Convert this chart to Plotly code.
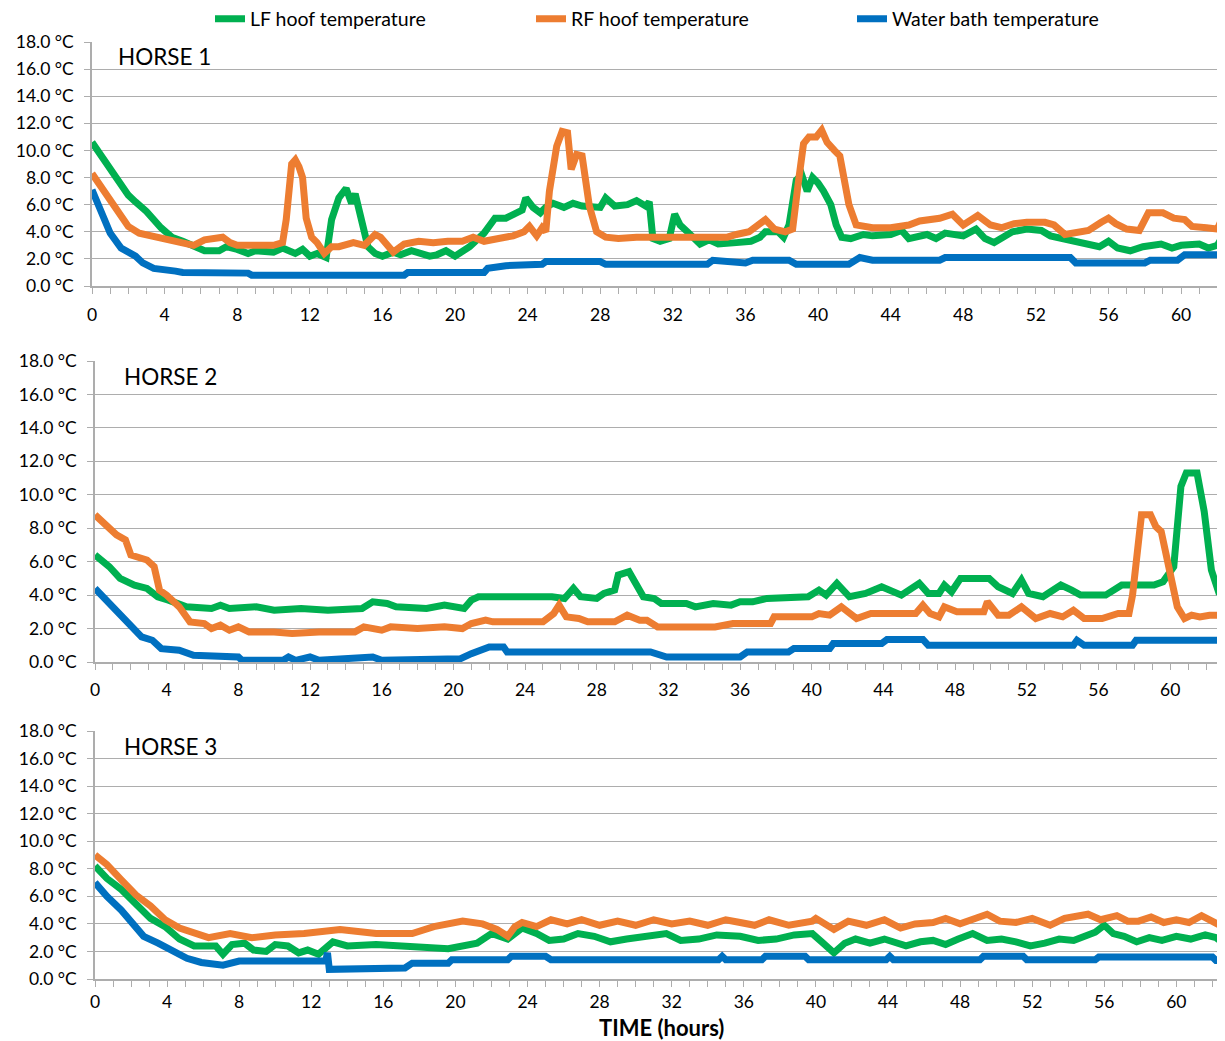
import plotly.graph_objects as go

# ---------------- DATA (hours, °C) ----------------
series_names = ["LF hoof temperature", "RF hoof temperature", "Water bath temperature"]
series_colors = ["#00B050", "#ED7D31", "#0070C0"]
panel_titles = ["HORSE 1", "HORSE 2", "HORSE 3"]
y_ticks = [0, 2, 4, 6, 8, 10, 12, 14, 16, 18]
y_tick_text = ["0.0 °C", "2.0 °C", "4.0 °C", "6.0 °C", "8.0 °C", "10.0 °C", "12.0 °C", "14.0 °C", "16.0 °C", "18.0 °C"]
x_ticks = [0, 4, 8, 12, 16, 20, 24, 28, 32, 36, 40, 44, 48, 52, 56, 60]

h1_lf = [(0,10.6),(0.4,9.8),(0.8,9.0),(1.2,8.2),(1.5,7.6),(2.0,6.7),(2.4,6.2),(2.6,6.0),(3.0,5.5),(3.8,4.3),
         (4.4,3.6),(5.0,3.3),(5.6,2.9),(6.2,2.6),(7.0,2.6),(7.4,2.9),(8.0,2.7),(8.6,2.4),(9.0,2.6),(10.0,2.5),(10.5,2.8),(11.2,2.4),
         (11.6,2.7),(12.0,2.2),(12.4,2.4),(12.9,2.1),(13.2,4.9),(13.6,6.5),(14.0,7.2),(14.3,6.1),(14.5,6.8),(14.8,5.0),
         (15.2,2.9),(15.6,2.4),(16.0,2.2),(16.6,2.5),(17.0,2.3),(17.6,2.6),(18.0,2.4),(18.6,2.2),(19.0,2.3),(19.5,2.6),(20.0,2.2),(20.8,2.9),(21.6,3.9),(22.2,5.0),
         (22.8,5.0),(23.3,5.3),(23.7,5.6),(23.9,6.5),(24.3,5.8),(24.7,5.4),(25.0,5.8),(25.4,6.1),(26.0,5.8),(26.5,6.1),(27.0,5.9),
         (28.0,5.8),(28.3,6.5),(28.8,5.9),(29.5,6.0),(30.0,6.3),(30.5,5.9),(30.7,6.2),(30.9,3.5),(31.3,3.3),(31.8,3.5),
         (32.1,5.3),(32.4,4.5),(32.8,4.0),(33.5,3.1),(34.0,3.4),(34.5,3.1),(35.5,3.2),(36.3,3.3),(36.8,3.6),(37.1,4.0),(37.8,4.0),
         (38.1,3.6),(38.4,4.5),(38.8,7.8),(39.1,8.2),(39.4,7.0),(39.7,8.0),(40.0,7.6),(40.3,7.0),(40.7,6.0),(41.0,4.5),
         (41.3,3.6),(41.8,3.5),(42.5,3.8),(43.0,3.7),(44.0,3.8),(44.6,4.1),(45.0,3.5),(46.0,3.8),(46.5,3.5),(47.0,3.9),(48.0,3.7),(48.7,4.2),(49.2,3.5),
         (49.7,3.2),(50.2,3.6),(50.7,4.0),(51.5,4.2),(52.3,4.1),(52.8,3.7),(53.8,3.4),(54.9,3.1),(55.5,2.9),(56.0,3.3),(56.5,2.8),
         (57.2,2.6),(57.9,2.9),(58.9,3.1),(59.5,2.8),(60.0,3.0),(61.0,3.1),(61.5,2.8),(62.0,3.0),(62.4,3.9)]
h1_rf = [(0,8.3),(0.4,7.5),(0.8,6.8),(1.4,5.4),(2.0,4.4),(2.6,3.9),(3.6,3.6),(4.2,3.3),(5.6,3.0),(6.2,3.4),
         (7.2,3.6),(7.6,3.2),(8.0,3.0),(9.0,3.0),(10.0,3.0),(10.5,3.2),(10.7,4.9),(11.0,9.0),(11.2,9.3),(11.4,8.8),
         (11.6,8.0),(11.8,5.0),(12.1,3.6),(12.4,3.2),(12.8,2.4),(13.2,2.9),(13.6,2.9),(14.4,3.2),(15.0,3.0),(15.6,3.8),
         (15.9,3.6),(16.6,2.5),(17.2,3.1),(18.0,3.3),(18.8,3.2),(19.6,3.3),(20.4,3.3),(21.0,3.6),(21.6,3.3),(22.4,3.5),
         (23.2,3.7),(23.8,4.0),(24.1,4.4),(24.5,3.7),(24.8,4.3),(25.0,4.0),(25.2,7.0),(25.6,10.3),(25.9,11.4),(26.2,11.3),
         (26.4,8.6),(26.7,9.7),(27.0,9.6),(27.4,5.9),(27.8,4.0),(28.3,3.6),(29.0,3.5),(30.0,3.6),(31.0,3.6),(32.0,3.5),
         (33.0,3.6),(34.0,3.6),(35.0,3.6),(35.5,3.8),(36.2,4.0),(37.1,4.9),(37.6,4.2),(38.2,4.0),(38.6,4.2),(38.9,7.5),
         (39.2,10.5),(39.5,11.0),(39.9,11.0),(40.2,11.5),(40.5,10.6),(40.9,10.0),(41.2,9.6),(41.7,6.0),(42.1,4.5),(43.0,4.3),
         (44.0,4.3),(45.0,4.5),(45.6,4.8),(46.7,5.0),(47.4,5.3),(48.0,4.5),(48.5,5.0),(48.8,5.2),(49.5,4.5),(50.1,4.3),
         (50.8,4.6),(51.5,4.7),(52.5,4.7),(53.0,4.5),(53.6,3.8),(54.0,3.9),(54.9,4.1),(55.6,4.7),(56.0,5.0),(56.4,4.6),
         (57.0,4.2),(57.7,4.1),(58.2,5.4),(59.0,5.4),(59.6,5.0),(60.2,4.9),(60.6,4.4),(61.4,4.3),(62.0,4.2),(62.4,5.4)]
h1_wb = [(0,7.1),(0.4,5.8),(1.0,3.9),(1.6,2.8),(2.4,2.2),(2.8,1.7),(3.4,1.3),(4.6,1.1),(5.0,1.0),(8.6,0.95),
         (8.8,0.8),(17.2,0.8),(17.4,1.0),(21.6,1.0),(21.8,1.3),(22.8,1.5),(24.8,1.6),(25.0,1.8),(28.0,1.8),(28.3,1.6),
         (33.9,1.6),(34.2,1.9),(36.0,1.7),(36.4,1.9),(38.4,1.9),(38.8,1.6),(41.7,1.6),(42.3,2.1),(43.0,1.9),(46.7,1.9),
         (47.0,2.1),(53.9,2.1),(54.2,1.7),(58.0,1.7),(58.3,1.9),(59.8,1.9),(60.2,2.3),(62.0,2.3),(62.4,2.5)]

h2_lf = [(0,6.4),(0.8,5.7),(1.4,5.0),(2.2,4.6),(2.9,4.4),(3.5,3.9),(4.1,3.7),(4.7,3.4),(5.1,3.3),(6.5,3.2),
         (7.0,3.4),(7.5,3.2),(9.0,3.3),(10.0,3.1),(11.5,3.2),(13.0,3.1),(14.9,3.2),(15.5,3.6),(16.3,3.5),(16.8,3.3),
         (18.5,3.2),(19.5,3.4),(20.6,3.2),(21.0,3.7),(21.4,3.9),(25.5,3.9),(26.2,3.8),(26.7,4.4),(27.1,3.9),(28.0,3.8),
         (28.4,4.1),(29.0,4.3),(29.2,5.2),(29.8,5.4),(30.2,4.6),(30.6,3.9),(31.2,3.8),(31.6,3.5),(33.0,3.5),(33.5,3.3),
         (34.5,3.5),(35.5,3.4),(36.0,3.6),(36.7,3.6),(37.5,3.8),(38.5,3.8),(39.8,3.9),(40.4,4.3),(40.8,4.0),(41.4,4.7),
         (42.1,3.9),(43.0,4.1),(43.9,4.5),(45.0,4.0),(46.0,4.7),(46.5,4.1),(47.1,4.1),(47.4,4.6),(47.8,4.2),(48.3,5.0),
         (49.9,5.0),(50.4,4.5),(51.2,4.1),(51.7,4.9),(52.1,4.1),(52.9,3.9),(53.9,4.6),(54.5,4.3),(55.0,4.0),(56.4,4.0),
         (57.3,4.6),(59.1,4.6),(59.6,4.8),(60.2,5.7),(60.4,8.5),(60.6,10.5),(60.9,11.3),(61.5,11.3),(61.9,9.0),(62.3,5.5),
         (62.7,4.2),(63.1,4.2)]
h2_rf = [(0,8.8),(0.6,8.2),(1.2,7.6),(1.7,7.3),(2.0,6.4),(2.9,6.1),(3.3,5.7),(3.6,4.3),(4.0,4.0),(4.7,3.3),
         (5.3,2.4),(6.1,2.3),(6.5,2.0),(7.0,2.2),(7.5,1.9),(8.0,2.1),(8.6,1.8),(10.0,1.8),(11.0,1.7),(12.5,1.8),
         (14.5,1.8),(15.0,2.1),(16.0,1.9),(16.5,2.1),(18.0,2.0),(19.5,2.1),(20.5,2.0),(21.0,2.3),(21.8,2.5),(22.2,2.4),
         (25.0,2.4),(25.6,2.9),(25.9,3.4),(26.3,2.7),(27.0,2.6),(27.5,2.4),(29.0,2.4),(29.7,2.8),(30.4,2.5),(30.8,2.5),
         (31.4,2.1),(33.0,2.1),(34.6,2.1),(35.6,2.3),(37.7,2.3),(37.9,2.7),(40.0,2.7),(40.4,2.9),(41.0,2.8),(41.65,3.3),
         (42.5,2.6),(43.3,2.9),(45.0,2.9),(45.8,2.9),(46.2,3.4),(46.6,2.9),(47.1,2.7),(47.4,3.3),(48.1,3.0),(49.6,3.0),
         (49.8,3.6),(50.4,2.8),(51.0,2.8),(51.7,3.3),(52.5,2.6),(53.3,2.9),(54.0,2.7),(54.6,3.1),(55.2,2.6),(56.2,2.6),
         (57.1,2.9),(57.7,2.9),(57.9,4.0),(58.2,7.5),(58.4,8.8),(58.9,8.8),(59.2,8.1),(59.5,7.8),(60.0,5.0),(60.4,3.3),
         (60.8,2.6),(61.2,2.8),(61.65,2.7),(62.2,2.8),(63.1,2.8)]
h2_wb = [(0,4.4),(0.8,3.5),(1.8,2.5),(2.6,1.5),(3.2,1.3),(3.7,0.8),(4.7,0.7),(5.5,0.4),(8.0,0.3),(8.2,0.1),
         (10.5,0.1),(10.8,0.3),(11.2,0.1),(12.0,0.3),(12.5,0.1),(14.8,0.2),(15.5,0.3),(16.0,0.1),(19.0,0.1),(20.4,0.2),
         (21.0,0.5),(21.6,0.7),(22.0,0.9),(22.8,0.9),(23.0,0.6),(30.4,0.6),(31.0,0.6),(31.9,0.3),(36.0,0.3),(36.4,0.6),
         (38.7,0.6),(39.0,0.8),(41.0,0.8),(41.2,1.1),(43.9,1.1),(44.2,1.35),(46.2,1.35),(46.5,1.0),(54.6,1.0),(54.8,1.3),
         (55.2,1.0),(57.9,1.0),(58.1,1.3),(63.1,1.3)]

h3_lf = [(0,8.2),(0.66,7.3),(1.46,6.5),(2.27,5.4),(3.08,4.4),(3.89,3.8),(4.69,2.9),(5.5,2.4),(6.7,2.4),(7.1,1.8),
         (7.6,2.5),(8.3,2.6),(8.8,2.1),(9.5,2.0),(10.0,2.5),(10.7,2.4),(11.3,1.9),(11.8,2.1),(12.4,1.8),(13.2,2.7),
         (14.0,2.4),(15.6,2.5),(17.6,2.4),(19.6,2.2),(21.2,2.6),(22.0,3.3),(22.9,2.9),(23.7,3.7),(24.5,3.3),(25.2,2.8),
         (26.0,2.9),(26.8,3.3),(27.7,3.1),(28.6,2.7),(29.5,2.9),(30.5,3.1),(31.7,3.3),(32.5,2.8),(33.5,2.9),(34.5,3.2),
         (35.8,3.1),(36.8,2.8),(37.8,2.9),(38.8,3.2),(39.8,3.3),(40.4,2.6),(41.0,1.9),(41.6,2.6),(42.2,2.9),(43.0,2.6),
         (43.8,2.9),(45.0,2.4),(45.8,2.7),(46.5,2.8),(47.2,2.5),(47.9,2.9),(48.7,3.3),(49.5,2.8),(50.3,2.9),(51.1,2.7),
         (51.9,2.4),(52.7,2.6),(53.5,2.9),(54.3,2.8),(55.0,3.1),(55.5,3.4),(56.0,3.9),(56.5,3.3),(57.1,3.1),(57.8,2.7),
         (58.5,3.0),(59.2,2.8),(60.0,3.1),(60.8,2.9),(61.6,3.2),(62.2,3.0),(62.7,2.5)]
h3_rf = [(0,9.0),(0.66,8.3),(1.46,7.2),(2.27,6.1),(3.08,5.3),(3.89,4.3),(4.69,3.7),(5.5,3.3),(6.3,3.0),(7.5,3.3),
         (8.7,3.0),(10.0,3.2),(11.6,3.3),(13.6,3.6),(15.6,3.3),(17.6,3.3),(18.8,3.8),(20.4,4.2),(21.5,4.0),(22.3,3.6),
         (22.9,3.1),(23.3,3.8),(23.7,4.1),(24.5,3.8),(25.3,4.3),(26.2,4.0),(27.0,4.3),(28.0,3.9),(29.0,4.2),(30.0,3.9),
         (31.0,4.3),(32.0,4.0),(33.0,4.2),(34.0,3.9),(35.0,4.3),(35.8,4.1),(36.6,3.9),(37.4,4.3),(38.5,3.9),(39.8,4.2),
         (40.0,4.4),(41.0,3.6),(41.8,4.2),(42.8,3.9),(43.8,4.3),(44.7,3.7),(45.5,4.0),(46.5,4.1),(47.2,4.4),(48.0,4.0),
         (48.8,4.4),(49.5,4.7),(50.2,4.2),(51.1,4.1),(52.0,4.4),(53.0,3.9),(53.8,4.4),(55.1,4.7),(55.8,4.3),(56.7,4.6),
         (57.3,4.2),(57.9,4.2),(58.6,4.5),(59.3,4.1),(60.0,4.3),(60.7,4.1),(61.4,4.6),(62.0,4.2),(62.7,3.7)]
h3_wb = [(0,7.0),(0.66,6.0),(1.46,5.0),(2.27,3.8),(2.7,3.1),(3.5,2.6),(4.3,2.1),(5.1,1.5),(5.9,1.2),(7.1,1.0),
         (8.0,1.3),(12.8,1.3),(12.9,1.9),(13.0,0.7),(17.2,0.8),(17.6,1.15),(19.6,1.15),(19.8,1.4),(22.9,1.4),(23.1,1.65),
         (25.0,1.65),(25.3,1.4),(34.6,1.4),(34.8,1.65),(35.0,1.4),(37.0,1.4),(37.2,1.65),(39.4,1.65),(39.6,1.4),(43.9,1.4),
         (44.1,1.65),(44.3,1.4),(49.1,1.4),(49.3,1.65),(51.5,1.65),(51.7,1.4),(55.5,1.4),(55.7,1.6),(62.0,1.6),(62.2,1.35),
         (62.7,1.35)]

horses = [[h1_lf, h1_rf, h1_wb], [h2_lf, h2_rf, h2_wb], [h3_lf, h3_rf, h3_wb]]

# ---------------- LAYOUT ----------------
OFF = 8                      # page body margin of the browser
W, H = 1225 - OFF, 1041 - OFF
FONT = "Lato"
GRID = "#ADADAD"


def px(xr):
    return (xr - OFF) / W


def py(yr):
    return 1 - (yr - OFF) / H


# pixel geometry (reference image) of each panel: (left, top, bottom, x-range max, label standoff)
panels = [(92, 42, 286, 62.42, 6), (95, 361, 662, 63.06, 5), (95, 731, 979, 62.7, 0)]

fig = go.Figure()
for i, series in enumerate(horses):
    ax = "" if i == 0 else str(i + 1)
    for j, pts in enumerate(series):
        fig.add_trace(go.Scatter(
            x=[p[0] for p in pts], y=[p[1] for p in pts],
            mode="lines", name=series_names[j],
            line=dict(color=series_colors[j], width=7),
            xaxis="x" + ax, yaxis="y" + ax,
            showlegend=(i == 0), legendrank=j,
        ))

layout = dict(
    width=W, height=H, margin=dict(l=0, r=0, t=0, b=0, autoexpand=False),
    paper_bgcolor="white", plot_bgcolor="white",
    font=dict(family=FONT, size=16, color="#000000"),
    showlegend=True,
    legend=dict(orientation="h", x=px(210), y=py(19), xanchor="left", yanchor="middle",
                entrywidth=276, entrywidthmode="pixels", font=dict(size=19.5, family=FONT),
                bgcolor="rgba(0,0,0,0)", traceorder="normal"),
)
annotations = []
for i, (lpx, tpx, bpx, xmax, stand) in enumerate(panels):
    ax = "" if i == 0 else str(i + 1)
    layout["xaxis" + ax] = dict(
        domain=[px(lpx), 1], range=[0, xmax], anchor="y" + ax,
        tickvals=x_ticks, ticks="outside", ticklen=6, tickcolor=GRID, tickwidth=1,
        minor=dict(dtick=1, tick0=0, ticks="outside", ticklen=6, tickcolor=GRID, showgrid=False),
        showgrid=False, zeroline=False, showline=True, linecolor=GRID, linewidth=1.5,
        tickfont=dict(size=17.5, family=FONT), ticklabelstandoff=stand, automargin=False,
    )
    layout["yaxis" + ax] = dict(
        domain=[py(bpx), py(tpx)], range=[0, 18], anchor="x" + ax,
        tickvals=y_ticks, ticktext=y_tick_text,
        ticks="outside", ticklen=6, tickcolor=GRID,
        showgrid=True, gridcolor=GRID, gridwidth=1.2, zeroline=False,
        showline=True, linecolor=GRID, linewidth=1.5,
        tickfont=dict(size=17.5, family=FONT), ticklabelstandoff=7, automargin=False,
    )
    annotations.append(dict(text=panel_titles[i], xref="paper", yref="paper",
                            x=px(lpx + 24 + (3 if i else 0)), y=py(tpx + 15),
                            xanchor="left", yanchor="middle", showarrow=False,
                            font=dict(size=22.5, family=FONT)))
annotations.append(dict(text="<b>TIME (hours)</b>", xref="paper", yref="paper",
                        x=px(661), y=py(1027), xanchor="center", yanchor="middle",
                        showarrow=False, font=dict(size=22, family=FONT)))
layout["annotations"] = annotations
fig.update_layout(**layout)

fig.write_html("out.html")
